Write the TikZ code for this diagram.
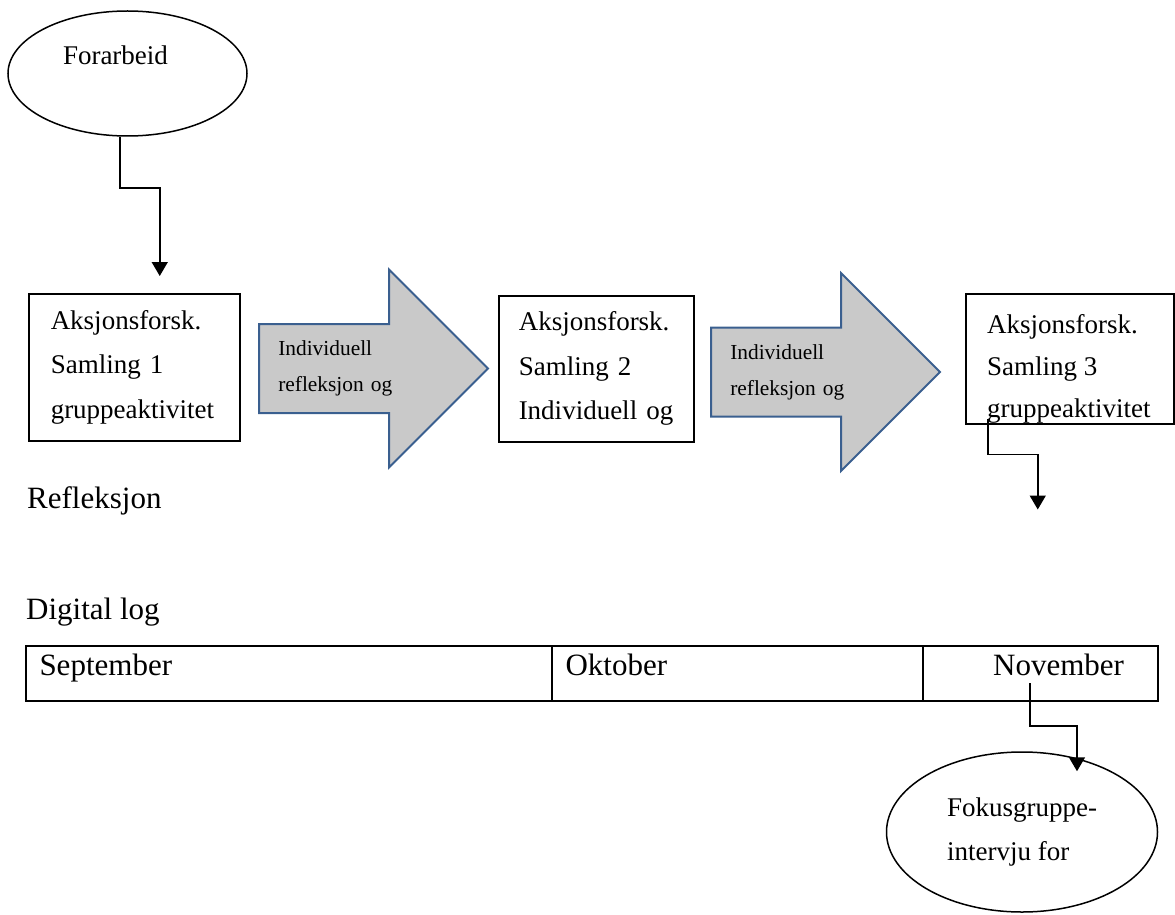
\documentclass[tikz,border=0pt]{standalone}
\usepackage{fontspec}
\setmainfont{Liberation Serif}
\usetikzlibrary{shapes.geometric, shapes.arrows, arrows.meta, positioning}

\definecolor{flowgray}{HTML}{C9C9C9}
\definecolor{flowblue}{HTML}{3A5F8F}

\begin{document}
\begin{tikzpicture}[
    x=1pt, y=-1pt,
    box/.style={draw, rectangle, line width=1.5pt, anchor=north west, inner xsep=22pt, inner ysep=0pt, align=left, font=\fontsize{27}{44.5}\selectfont},
    oval/.style={draw, ellipse, line width=1.5pt, align=left, font=\fontsize{27}{44}\selectfont},
    bigarrow/.style={draw=flowblue, fill=flowgray, line width=2pt, single arrow, single arrow tip angle=90, single arrow head extend=50.5pt, minimum height=229pt, minimum width=198pt, inner xsep=0pt, inner ysep=12.5pt, align=left, text width=146pt, font=\fontsize{21.4}{36}\selectfont},
    cell/.style={draw, rectangle, line width=2pt, outer sep=0pt, anchor=north west, minimum height=55pt, inner xsep=13.5pt, inner ysep=0pt, text height=24pt, text depth=21pt, align=left, font=\fontsize{31}{37}\selectfont},
    plain/.style={anchor=base west, inner sep=0pt, font=\fontsize{31}{37}\selectfont},
    link/.style={line width=1.5pt, -{Triangle[width=16pt,length=14pt]}}
]
\useasboundingbox (0,0) rectangle (1175,915);

% Nodes
\node (prep) [oval, minimum width=239pt, minimum height=125pt, text width=129pt, text height=18pt, text depth=35pt] at (127.5,73.5) {Forarbeid};

\node (s1) [box, minimum width=211pt, minimum height=147pt, text width=167pt] at (28,293) {Aksjonsforsk.\\Samling 1\\gruppeaktivitet};
\node (arr1) [bigarrow, anchor=tail] at (258,368.5) {Individuell\\refleksjon og};
\node (s2) [box, inner xsep=20pt, minimum width=195pt, minimum height=146pt, text width=155pt] at (498,295) {Aksjonsforsk.\\Samling 2\\Individuell og};
\node (arr2) [bigarrow, anchor=tail] at (710,372) {Individuell\\refleksjon og};
\node (s3) [box, minimum width=208pt, minimum height=130pt] at (965,293) {};
\begin{scope}
  \clip (s3.north west) rectangle (s3.south east);
  \node (s3text) [anchor=north west, inner sep=0pt, align=left, font=\fontsize{27}{42}\selectfont] at (987,314.5) {Aksjonsforsk.\\Samling 3\\gruppeaktivitet};
\end{scope}

\node (refl) [plain] at (27,508) {Refleksjon};
\node (dlog) [plain] at (26,619) {Digital log};

\node (sep) [cell, text width=499pt] at (26,646) {September};
\node (okt) [cell, text width=344pt, right=0pt of sep] {Oktober};
\node (nov) [cell, text width=167pt, inner xsep=34pt, align=right, right=0pt of okt] {November};

\node (fokus) [oval, minimum width=271pt, minimum height=160pt] at (1022,832) {Fokusgruppe-\\intervju for};

% Links
\draw[link] ([xshift=-7.5pt]prep.south) -- ++(0,51) -| ([xshift=25.5pt,yshift=17pt]s1.north);
\draw[link] ([xshift=-82pt,yshift=6pt]s3.south) -- ++(0,36) -| ([xshift=-32pt,yshift=-85pt]s3.south);
\draw[link] ([xshift=-10.5pt,yshift=18pt]nov.south) -- ++(0,43) -| ([xshift=55pt,yshift=-20pt]fokus.north);

\end{tikzpicture}
\end{document}
